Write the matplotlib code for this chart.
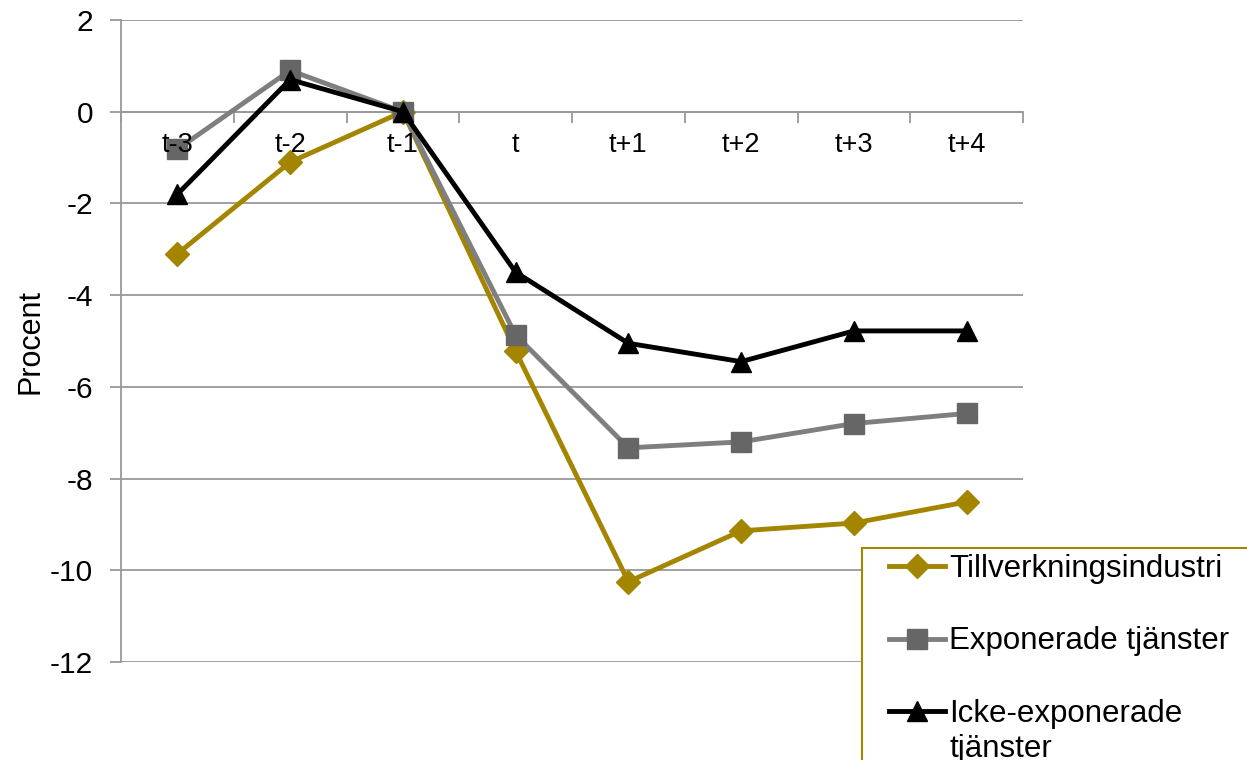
import matplotlib
matplotlib.use("Agg")
import matplotlib.pyplot as plt
from matplotlib.patches import Rectangle

categories = ["t-3", "t-2", "t-1", "t", "t+1", "t+2", "t+3", "t+4"]
tillverkning = [-3.1, -1.1, 0.0, -5.22, -10.25, -9.14, -8.97, -8.51]
exponerade = [-0.82, 0.9, 0.0, -4.87, -7.33, -7.2, -6.8, -6.58]
icke_exponerade = [-1.8, 0.7, 0.0, -3.5, -5.05, -5.45, -4.78, -4.78]
labels = ["Tillverkningsindustri", "Exponerade tjänster", "Icke-exponerade"]
label_cont = "tjänster"
yticks = [2, 0, -2, -4, -6, -8, -10, -12]

plt.rcParams['font.family'] = ['Liberation Sans', 'DejaVu Sans']

fig = plt.figure(figsize=(12.47, 7.6), dpi=100)
ax = fig.add_axes([121/1247, 1-662/760, (1023-121)/1247, (662-20)/760])

x = list(range(len(categories)))
gold = "#A38500"
l1, = ax.plot(x, tillverkning, color=gold, lw=3.5, marker="D", ms=12, mfc=gold, mec=gold, zorder=3)
l2, = ax.plot(x, exponerade, color="#7F7F7F", lw=3.5, marker="s", ms=14, mfc="#666666", mec="#666666", zorder=4)
l3, = ax.plot(x, icke_exponerade, color="black", lw=3.5, marker="^", ms=15, mfc="black", mec="black", zorder=5)

ax.set_xlim(-0.5, len(categories) - 0.5)
ax.set_ylim(-12, 2)
ax.set_yticks(yticks)
ax.set_yticklabels([str(v) for v in yticks], fontsize=21.5)
ax.yaxis.grid(True, color="#999999", lw=1.3)
ax.set_axisbelow(True)
ax.tick_params(axis="y", length=8, width=1.3, color="#999999", pad=12)
ax.set_ylabel("Procent", fontsize=22, labelpad=3)

# x axis at zero
ax.spines["bottom"].set_position(("data", 0))
ax.spines["bottom"].set_color("#999999")
ax.spines["bottom"].set_linewidth(1.3)
for s in ["top", "right"]:
    ax.spines[s].set_visible(False)
ax.spines["left"].set_color("#999999")
ax.spines["left"].set_linewidth(1.3)

ax.set_xticks([i + 0.5 for i in range(len(categories) - 1)] + [-0.5, len(categories) - 0.5])
ax.set_xticklabels([])
ax.tick_params(axis="x", length=8, width=1.3, color="#999999", direction="out")
for i, c in enumerate(categories):
    ax.text(i, -0.72, c, ha="center", va="center", fontsize=19.5, zorder=10)

fig.patches.append(Rectangle((862/1247, -0.02), 0.5, (760-548)/760 + 0.02,
                             transform=fig.transFigure, fill=True, facecolor="white",
                             edgecolor=gold, lw=1.5, zorder=5))
leg = fig.legend([l1, l2, l3], labels, loc="upper left",
                 bbox_to_anchor=(883/1247, 1-548/760), frameon=False,
                 fontsize=22.5, handlelength=1.8, handletextpad=0.12,
                 labelspacing=1.35, borderpad=0.2, borderaxespad=0)
leg.set_zorder(6)

fig.canvas.draw()
t3 = leg.get_texts()[2]
bb = t3.get_window_extent()
inv = fig.transFigure.inverted()
x0, y0 = inv.transform((bb.x0, bb.y0))
fig.text(x0, y0 - 5/760, label_cont, ha="left", va="top", fontsize=22.5, zorder=7)

fig.savefig("out.png", dpi=100)
